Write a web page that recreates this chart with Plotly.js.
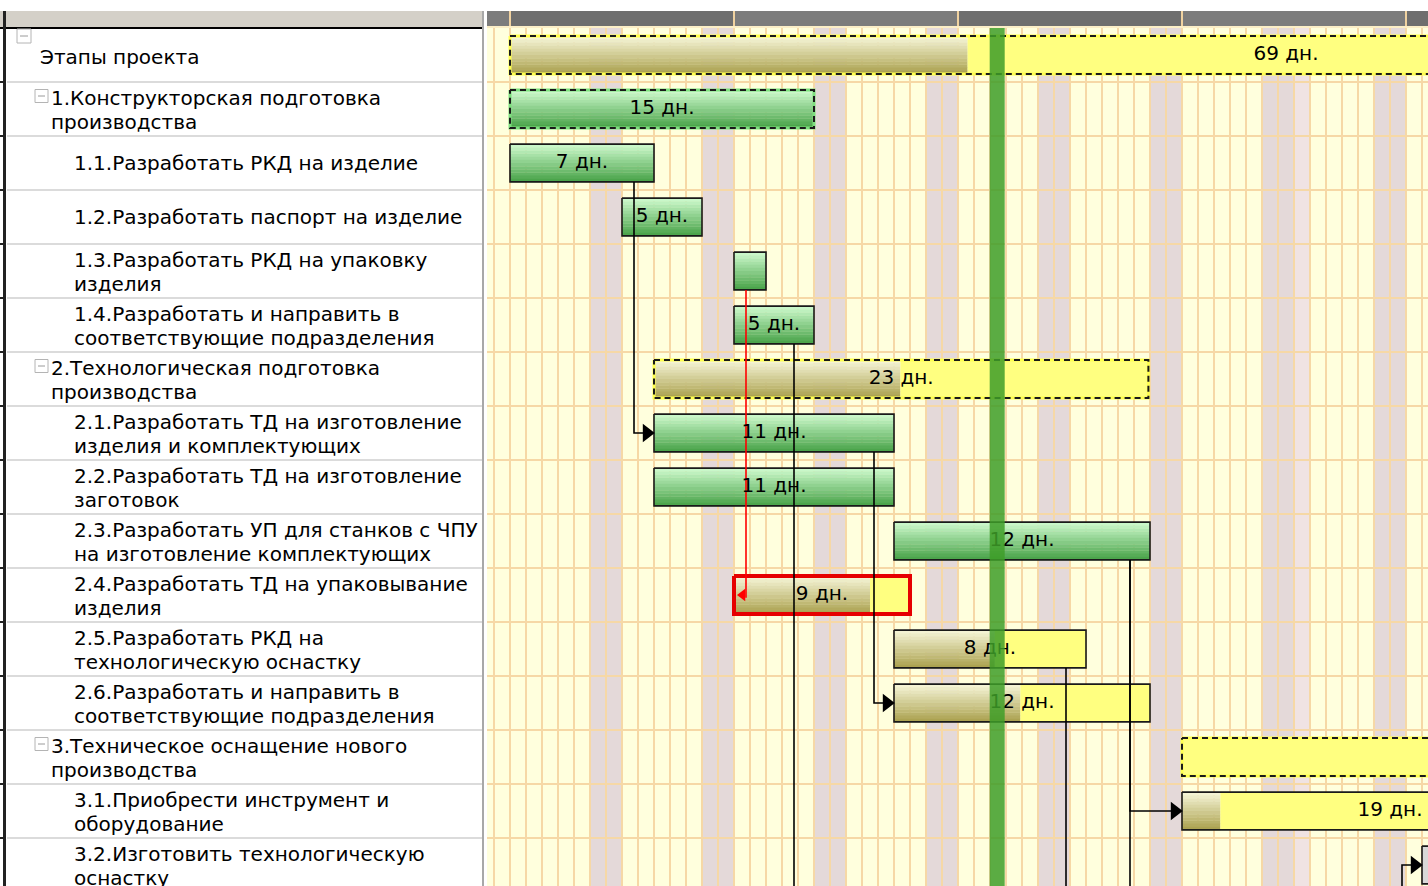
<!DOCTYPE html>
<html>
<head>
<meta charset="utf-8">
<script src="https://cdn.plot.ly/plotly-3.0.1.min.js"></script>
<style>
  html, body { margin: 0; padding: 0; background: #fff; }
  #gantt { width: 1428px; height: 886px; }
</style>
</head>
<body>
<div id="gantt"></div>
<script>
// task table, one or two text lines per row
const taskLine1 = [
  'Этапы проекта',
  '1.Конструкторская подготовка',
  '1.1.Разработать РКД на изделие',
  '1.2.Разработать паспорт на изделие',
  '1.3.Разработать РКД на упаковку',
  '1.4.Разработать и направить в',
  '2.Технологическая подготовка',
  '2.1.Разработать ТД на изготовление',
  '2.2.Разработать ТД на изготовление',
  '2.3.Разработать УП для станков с ЧПУ',
  '2.4.Разработать ТД на упаковывание',
  '2.5.Разработать РКД на',
  '2.6.Разработать и направить в',
  '3.Техническое оснащение нового',
  '3.1.Приобрести инструмент и',
  '3.2.Изготовить технологическую'
];
const taskLine2 = [
  '', 'производства', '', '', 'изделия', 'соответствующие подразделения',
  'производства', 'изделия и комплектующих', 'заготовок',
  'на изготовление комплектующих', 'изделия', 'технологическую оснастку',
  'соответствующие подразделения', 'производства', 'оборудование', 'оснастку'
];
const taskLevel = [0, 1, 2, 2, 2, 2, 1, 2, 2, 2, 2, 2, 2, 1, 2, 2];

// bars, calendar days from project start
const barStart  = [0,    0,  0, 7,  14, 14, 9,    9,  9,  24, 14,   24,   24,   42, 42,   57];
const barEnd    = [97,   19, 9, 12, 16, 19, 39.9, 24, 24, 40, 25,   36,   40,   90, 68,   80];
const doneUntil = [28.6, 19, 9, 12, 16, 19, 24.4, 24, 24, 40, 22.5, 30.3, 31.9, 42, 44.4, 57];
const durationLabel = ['69 дн.', '15 дн.', '7 дн.', '5 дн.', '', '5 дн.', '23 дн.', '11 дн.',
  '11 дн.', '12 дн.', '9 дн.', '8 дн.', '12 дн.', '', '19 дн.', ''];
const barKind = ['summary', 'summary', 'task', 'task', 'task', 'task', 'summary', 'task',
  'task', 'task', 'critical', 'task', 'task', 'summary', 'task', 'planned'];

// calendar
const weekendDays = [5, 6, 12, 13, 19, 20, 26, 27, 33, 34, 40, 41, 47, 48, 54, 55];
const holidayDays = [49];
const todayDay = 30.45;

// dependencies [from row, to row], null = a row below the visible part
const links = [[2, 7], [4, 10], [5, null], [7, 12], [9, 14], [9, null], [11, null], [null, 15]];
const hiddenPredEnd = 57;

// page geometry
const W = 1428, H = 886;
const TOP = 28, ROW = 54, LEFT = 487, DAY0 = 510, DAY = 16;
const px = v => v / W;
const py = v => 1 - v / H;
const rowsShown = (H - TOP) / ROW;
const BAR_H = 0.70;
const FONT = 'DejaVu Sans, Verdana, sans-serif';

function mix(a, b, t) {
  const ca = [1, 3, 5].map(k => parseInt(a.substr(k, 2), 16));
  const cb = [1, 3, 5].map(k => parseInt(b.substr(k, 2), 16));
  const c = ca.map((v, k) => Math.round(v + (cb[k] - v) * t));
  return 'rgb(' + c.join(',') + ')';
}

const rows = barStart.map((_, i) => i);
const traces = [];

// gradient fill made of thin stacked bands
function bands(idx, from, to, top, bottom) {
  const n = 12;
  if (!idx.length) return;
  for (let k = 0; k < n; k++) {
    traces.push({
      type: 'bar', orientation: 'h',
      y: idx, base: idx.map(from), x: idx.map(i => to(i) - from(i)),
      width: BAR_H / n + 0.006, offset: -BAR_H / 2 + k * BAR_H / n,
      marker: { color: mix(top, bottom, k / (n - 1)), line: { width: 0 } },
      hoverinfo: 'skip'
    });
  }
}

const greenRows = rows.filter(i => barKind[i] !== 'planned' && doneUntil[i] >= barEnd[i]);
const oliveRows = rows.filter(i => barKind[i] !== 'planned' && doneUntil[i] > barStart[i] && doneUntil[i] < barEnd[i]);
const restRows = rows.filter(i => barKind[i] !== 'planned' && doneUntil[i] < barEnd[i]);
const plannedRows = rows.filter(i => barKind[i] === 'planned');

bands(greenRows, i => barStart[i], i => barEnd[i], '#c9f7c9', '#4ca54c');
bands(oliveRows, i => barStart[i], i => doneUntil[i], '#f4f3d4', '#aca352');

traces.push({
  type: 'bar', orientation: 'h',
  y: restRows, base: restRows.map(i => Math.max(barStart[i], doneUntil[i])),
  x: restRows.map(i => barEnd[i] - Math.max(barStart[i], doneUntil[i])),
  width: BAR_H, offset: -BAR_H / 2,
  marker: { color: '#ffff80', line: { width: 0 } }, hoverinfo: 'skip'
});
traces.push({
  type: 'bar', orientation: 'h',
  y: plannedRows, base: plannedRows.map(i => barStart[i]),
  x: plannedRows.map(i => barEnd[i] - barStart[i]),
  width: BAR_H, offset: -BAR_H / 2,
  marker: { color: '#d8d8d8', line: { width: 0 } }, hoverinfo: 'skip'
});

function outline(idx) {
  const x = [], y = [];
  idx.forEach(i => {
    const y0 = i - BAR_H / 2, y1 = i + BAR_H / 2;
    x.push(barStart[i], barEnd[i], barEnd[i], barStart[i], barStart[i], null);
    y.push(y0, y0, y1, y1, y0, null);
  });
  return { x, y };
}

// summary bars: coloured rim under a dashed frame
const sumRows = rows.filter(i => barKind[i] === 'summary');
const sumGreen = sumRows.filter(i => doneUntil[i] >= barEnd[i]);
const sumYellow = sumRows.filter(i => doneUntil[i] < barEnd[i]);
traces.push(Object.assign({ type: 'scatter', mode: 'lines', hoverinfo: 'skip',
  line: { color: '#ffff50', width: 3 } }, outline(sumYellow)));
traces.push(Object.assign({ type: 'scatter', mode: 'lines', hoverinfo: 'skip',
  line: { color: '#7ee07e', width: 3 } }, outline(sumGreen)));
traces.push(Object.assign({ type: 'scatter', mode: 'lines', hoverinfo: 'skip',
  line: { color: '#1a1a1a', width: 2, dash: '6px,4px' } }, outline(sumRows)));

const taskRows = rows.filter(i => barKind[i] === 'task' || barKind[i] === 'planned');
const critRows = rows.filter(i => barKind[i] === 'critical');
traces.push(Object.assign({ type: 'scatter', mode: 'lines', hoverinfo: 'skip',
  line: { color: '#1a1a1a', width: 1.6 } }, outline(taskRows)));
traces.push(Object.assign({ type: 'scatter', mode: 'lines', hoverinfo: 'skip',
  line: { color: '#e60000', width: 4 } }, outline(critRows)));

// dependency lines
const lk = { x: [], y: [] }, lkRed = { x: [], y: [] };
const arrowR = { x: [], y: [] }, arrowL = { x: [], y: [] };
links.forEach(([f, t]) => {
  const xDrop = (f === null ? hiddenPredEnd : barEnd[f]) - 1.25;
  const yFrom = f === null ? rowsShown + 0.2 : f + BAR_H / 2;
  const red = t !== null && barKind[t] === 'critical';
  const path = red ? lkRed : lk;
  if (t === null) {
    path.x.push(xDrop, xDrop, null);
    path.y.push(yFrom, rowsShown + 0.2, null);
  } else if (red) {
    path.x.push(xDrop, xDrop, null);
    path.y.push(yFrom, t + 0.05, null);
    arrowL.x.push(barStart[t] + 0.53);
    arrowL.y.push(t);
  } else {
    const tip = barStart[t] - 0.45;
    path.x.push(xDrop, xDrop, tip, null);
    path.y.push(yFrom, t, t, null);
    arrowR.x.push(tip);
    arrowR.y.push(t);
  }
});
traces.push(Object.assign({ type: 'scatter', mode: 'lines', hoverinfo: 'skip',
  line: { color: '#000', width: 1.6 } }, lk));
traces.push(Object.assign({ type: 'scatter', mode: 'lines', hoverinfo: 'skip',
  line: { color: '#ff0000', width: 1.6 } }, lkRed));
traces.push(Object.assign({ type: 'scatter', mode: 'markers', hoverinfo: 'skip',
  marker: { symbol: 'triangle-right', size: 16, color: '#000' } }, arrowR));
traces.push(Object.assign({ type: 'scatter', mode: 'markers', hoverinfo: 'skip',
  marker: { symbol: 'triangle-left', size: 11, color: '#ff0000' } }, arrowL));

// duration labels
const labRows = rows.filter(i => durationLabel[i]);
traces.push({
  type: 'scatter', mode: 'text', hoverinfo: 'skip',
  x: labRows.map(i => (barStart[i] + barEnd[i]) / 2), y: labRows,
  text: labRows.map(i => durationLabel[i]),
  textposition: 'middle center',
  textfont: { family: FONT, size: 20, color: '#000' }
});

// shapes: calendar, header, today line, left table frame
const shapes = [];
weekendDays.forEach(d => shapes.push({ type: 'rect', xref: 'x', yref: 'paper', layer: 'below',
  x0: d, x1: d + 1, y0: 0, y1: py(TOP), fillcolor: '#e4d9d9', line: { width: 0 } }));
holidayDays.forEach(d => shapes.push({ type: 'rect', xref: 'x', yref: 'paper', layer: 'below',
  x0: d, x1: d + 1, y0: 0, y1: py(TOP), fillcolor: '#f0e3e3', line: { width: 0 } }));

shapes.push({ type: 'line', xref: 'x', yref: 'paper', layer: 'above',
  x0: todayDay, x1: todayDay, y0: 0, y1: py(TOP),
  line: { color: 'rgba(62,158,40,0.85)', width: 15 } });

for (let d = -14, k = 0; d < 70; d += 14, k++) {
  shapes.push({ type: 'rect', xref: 'x', yref: 'paper', x0: d, x1: d + 14, y0: py(26), y1: py(11),
    fillcolor: k % 2 ? '#6e6e6e' : '#7c7c7c', line: { width: 0 } });
  shapes.push({ type: 'line', xref: 'x', yref: 'paper', x0: d, x1: d, y0: py(26), y1: py(11),
    line: { color: '#f0d2a0', width: 2 } });
}
shapes.push({ type: 'rect', xref: 'paper', yref: 'paper', x0: px(LEFT), x1: 1, y0: py(28), y1: py(26),
  fillcolor: '#fbeec6', line: { width: 0 } });

// left table
shapes.push({ type: 'rect', xref: 'paper', yref: 'paper', x0: 0, x1: px(482), y0: py(27), y1: py(11),
  fillcolor: '#d4d0c8', line: { width: 0 } });
shapes.push({ type: 'line', xref: 'paper', yref: 'paper', x0: 0, x1: px(482), y0: py(28), y1: py(28),
  line: { color: '#000', width: 2 } });
shapes.push({ type: 'line', xref: 'paper', yref: 'paper', x0: px(4.5), x1: px(4.5), y0: 0, y1: py(11),
  line: { color: '#222', width: 3 } });
shapes.push({ type: 'line', xref: 'paper', yref: 'paper', x0: px(483), x1: px(483), y0: 0, y1: py(11),
  line: { color: '#a8a8a8', width: 2 } });
for (let r = 0; r < 16; r++) {
  shapes.push({ type: 'line', xref: 'paper', yref: 'y', x0: px(7), x1: px(482), y0: r + 0.5, y1: r + 0.5,
    line: { color: '#cfcfcf', width: 1.5 } });
  shapes.push({ type: 'line', xref: 'paper', yref: 'y', x0: 0, x1: px(5), y0: r + 0.5, y1: r + 0.5,
    line: { color: '#222', width: 2 } });
}

// tree expander boxes
const boxX = [17, 35];
rows.forEach(i => {
  const lv = taskLevel[i];
  if (lv > 1) return;
  const top = lv === 0 ? -26 : -19.5;
  const s = lv === 0 ? 14 : 13;
  const x0 = boxX[lv];
  shapes.push({ type: 'rect', xref: 'paper', yref: 'y', x0: px(x0), x1: px(x0 + s),
    y0: i + top / ROW, y1: i + (top + s) / ROW, fillcolor: '#fff', line: { color: '#b4b4b4', width: 1 } });
  shapes.push({ type: 'line', xref: 'paper', yref: 'y', x0: px(x0 + 3), x1: px(x0 + s - 3),
    y0: i + (top + s / 2) / ROW, y1: i + (top + s / 2) / ROW, line: { color: '#9a9a9a', width: 1 } });
});

// task names
const textX = [38, 49, 72];
const annotations = [];
rows.forEach(i => {
  const base = { xref: 'paper', yref: 'y', xanchor: 'left', yanchor: 'middle', showarrow: false,
    x: px(textX[taskLevel[i]]), y: i, font: { family: FONT, size: 20, color: '#000' } };
  if (taskLine2[i]) {
    annotations.push(Object.assign({}, base, { text: taskLine1[i], yshift: 11 }));
    annotations.push(Object.assign({}, base, { text: taskLine2[i], yshift: -13 }));
  } else {
    annotations.push(Object.assign({}, base, { text: taskLine1[i], yshift: i === 0 ? -2 : 0 }));
  }
});

const layout = {
  width: W, height: H,
  margin: { l: 0, r: 0, t: 0, b: 0 },
  paper_bgcolor: '#ffffff', plot_bgcolor: '#ffffdd',
  showlegend: false, barmode: 'overlay',
  xaxis: { domain: [px(LEFT), 1], range: [(LEFT - DAY0) / DAY, (W - DAY0) / DAY],
    tick0: 0, dtick: 1, showgrid: true, gridcolor: '#f6d8a6', gridwidth: 2,
    showticklabels: false, ticks: '', zeroline: false, showline: false },
  yaxis: { domain: [0, py(TOP)], range: [rowsShown - 0.5, -0.5],
    tick0: 0.5, dtick: 1, showgrid: true, gridcolor: '#f6d8a6', gridwidth: 2,
    showticklabels: false, ticks: '', zeroline: false, showline: false },
  shapes, annotations
};

Plotly.newPlot('gantt', traces, layout, { staticPlot: true, displayModeBar: false });
</script>
</body>
</html>
